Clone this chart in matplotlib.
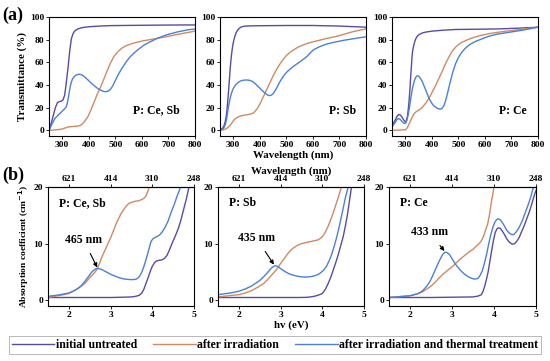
import matplotlib
matplotlib.use("Agg")
import matplotlib.pyplot as plt
from matplotlib.lines import Line2D

plt.rcParams['font.family'] = ['Liberation Serif', 'DejaVu Serif']
plt.rcParams['font.weight'] = 'bold'

C_INIT = '#5a4aa6'
C_IRR = '#cf8a64'
C_THERM = '#4a80d8'

series_names = ['initial untreated', 'after irradiation', 'after irradiation and thermal treatment']
panel_labels = ['P: Ce, Sb', 'P: Sb', 'P: Ce']

# ---------------- Row (a): transmittance vs wavelength ----------------
# Panel 1 : Ce, Sb
a1_init_x = [250, 258, 266, 274, 282, 290, 297, 303, 309, 313, 317, 322, 328, 334, 340, 346, 352, 358, 371, 385, 400, 440, 482, 600, 700, 800]
a1_init_y = [0, 6, 13, 20, 24.6, 25.4, 25.8, 27, 31, 38, 46, 56, 70, 80.5, 85, 87.4, 88.6, 89.4, 90.4, 91, 91.4, 92, 92.4, 92.7, 92.9, 93]
a1_irr_x = [250, 275, 297, 310, 322, 340, 359, 370, 377, 386, 396, 408, 420, 432, 445, 458, 470, 482, 494, 510, 525, 540, 556, 580, 605, 635, 667, 700, 729, 765, 800]
a1_irr_y = [0, 0.4, 1, 2, 3, 3.4, 3.7, 4.6, 6, 8.5, 11.8, 18, 25, 32, 38.5, 46, 53, 59.5, 65, 69.5, 72.6, 74.6, 76, 77.7, 79, 80.2, 81.5, 83, 84.4, 86, 87.5]
a1_the_x = [250, 260, 272, 285, 297, 306, 315, 320, 325, 330, 334, 338, 342, 349, 357, 365, 375, 390, 405, 420, 432, 445, 455, 464, 473, 482, 491, 500, 512, 525, 540, 556, 575, 593, 610, 630, 660, 692, 735, 778, 800]
a1_the_y = [0, 5, 10.4, 13.5, 16.3, 18.3, 20.7, 25, 32, 38.5, 42.5, 45, 46.6, 48.2, 49.2, 49.5, 48.8, 46, 42.6, 39.4, 37.2, 35.4, 34.4, 34.1, 34.6, 36.3, 39.6, 44, 49.7, 54.8, 60.2, 65, 69.2, 72.6, 75.5, 78, 81.4, 84.2, 86.9, 88.9, 89.3]

# Panel 2 : Sb
a2_init_x = [250, 260, 266, 270, 274, 277, 280, 284, 287, 290, 293, 296, 299, 302, 306, 310, 315, 321, 328, 334, 346, 370, 400, 500, 600, 700, 800]
a2_init_y = [0, 2, 4.5, 8, 13, 20, 28, 40, 50, 59, 66, 71.5, 76, 79.5, 83, 85.7, 88, 89.8, 90.9, 91.5, 92, 92.2, 92.3, 92.5, 92.5, 92, 91]
a2_irr_x = [250, 262, 270, 280, 290, 302, 312, 320, 330, 340, 352, 365, 377, 390, 402, 411, 420, 430, 440, 450, 460, 469, 477, 488, 500, 513, 527, 543, 560, 580, 602, 625, 650, 670, 690, 720, 750, 775, 800]
a2_irr_y = [0, 0.5, 1, 2.5, 5, 9, 11, 12, 12.8, 13.3, 13.8, 14.3, 15.5, 19, 24, 28.5, 33, 38, 43, 48, 52.4, 56, 59, 62.5, 66, 68.7, 71, 73.2, 75, 76.8, 78.2, 79.5, 81, 82, 83, 85, 87, 88.3, 89.5]
a2_the_x = [250, 260, 265, 270, 275, 280, 285, 290, 295, 300, 310, 320, 330, 340, 352, 362, 370, 380, 390, 400, 410, 418, 425, 431, 437, 443, 450, 457, 465, 472, 480, 490, 500, 515, 530, 545, 560, 577, 590, 602, 625, 650, 670, 690, 720, 750, 775, 800]
a2_the_y = [0, 1, 2.5, 5, 10, 18, 25, 30, 34, 37, 40.5, 42.5, 43.8, 44.3, 44.4, 44.1, 43.4, 41.8, 39.5, 37.2, 34.9, 33.2, 31.9, 31, 30.6, 31, 32.3, 34.7, 38, 41.3, 44.6, 48.2, 51, 54.3, 57, 59.5, 62, 65, 68.3, 71, 73.8, 76, 77.2, 78.2, 79.6, 80.7, 81.7, 82.5]

# Panel 3 : Ce
a3_init_x = [250, 256, 262, 268, 275, 281, 287, 293, 300, 304, 308, 312, 315, 318, 320, 323, 325, 328, 332, 336, 340, 346, 352, 365, 380, 400, 440, 490, 570, 655, 730, 800]
a3_init_y = [4.4, 6.5, 9, 12, 14, 13.6, 12, 9.5, 7.4, 8.5, 12, 20, 28, 38, 46, 56, 64, 70.5, 75, 78.5, 81, 83.3, 84.5, 86, 86.8, 87.5, 88.3, 89, 89.2, 89.5, 90.2, 91]
a3_irr_x = [250, 280, 302, 308, 315, 322, 328, 334, 343, 352, 365, 377, 390, 402, 415, 427, 440, 452, 465, 477, 492, 508, 530, 552, 580, 615, 645, 677, 720, 760, 800]
a3_irr_y = [0, 0.2, 0.6, 2.5, 6, 9.5, 12.5, 15, 16.8, 18, 20.5, 24, 28.5, 34, 40, 46, 52.5, 59, 65, 70, 74, 77, 79.5, 81.5, 83.5, 85.3, 86.4, 87.4, 88.6, 89.8, 91]
a3_the_x = [250, 256, 262, 268, 274, 280, 285, 291, 297, 302, 306, 310, 315, 320, 327, 334, 338, 342, 347, 352, 358, 365, 372, 380, 390, 400, 408, 415, 423, 431, 438, 446, 453, 459, 465, 472, 478, 484, 490, 496, 502, 514, 527, 545, 565, 590, 615, 645, 677, 710, 740, 770, 800]
a3_the_y = [3, 5, 7, 9.3, 10.4, 9.8, 8.5, 7, 6, 6.4, 9, 13, 19, 27, 37, 43.5, 46, 47.6, 48.2, 47.4, 45.5, 42.5, 38.5, 33.8, 28, 23.8, 21.5, 20.3, 19.2, 18.7, 19.2, 22, 27, 32.5, 38.5, 45, 50.5, 55, 59, 62.3, 65, 69.2, 72.6, 76, 78.5, 80.8, 83, 84.8, 86, 87.2, 88.3, 89.6, 91]

# ---------------- Row (b): absorption coefficient vs photon energy ----------------
b1_init_x = [1.5, 2.0, 2.5, 3.0, 3.3, 3.5, 3.6, 3.69, 3.75, 3.8, 3.85, 3.9, 3.95, 4.0, 4.05, 4.09, 4.15, 4.2, 4.25, 4.29, 4.35, 4.4, 4.45, 4.5, 4.56, 4.62, 4.68, 4.75, 4.82, 4.88, 4.95]
b1_init_y = [0.5, 0.5, 0.5, 0.5, 0.55, 0.6, 0.7, 0.9, 1.3, 2, 3, 4, 5.1, 6, 6.6, 6.9, 7.05, 7.1, 7.2, 7.4, 7.9, 8.7, 9.6, 10.5, 11.5, 12.6, 14, 16, 18, 20, 22]
b1_irr_x = [1.5, 1.8, 2.0, 2.15, 2.3, 2.4, 2.5, 2.58, 2.66, 2.73, 2.8, 2.9, 3.0, 3.08, 3.15, 3.25, 3.37, 3.44, 3.5, 3.55, 3.6, 3.66, 3.72, 3.78, 3.84, 3.88, 3.93, 4.0]
b1_irr_y = [0.5, 0.9, 1.2, 1.8, 2.5, 3.1, 4, 4.6, 5.3, 6.4, 7.8, 9.4, 11, 12.5, 13.8, 15.3, 16.6, 17.1, 17.3, 17.4, 17.5, 17.55, 17.7, 17.9, 18.3, 19, 20, 22]
b1_the_x = [1.5, 1.8, 2.0, 2.1, 2.2, 2.3, 2.4, 2.48, 2.55, 2.61, 2.66, 2.72, 2.8, 2.9, 3.0, 3.1, 3.2, 3.3, 3.4, 3.5, 3.6, 3.65, 3.7, 3.75, 3.8, 3.85, 3.9, 3.94, 3.97, 4.02, 4.07, 4.12, 4.17, 4.23, 4.3, 4.38, 4.45, 4.53, 4.6, 4.68, 4.75]
b1_the_y = [0.7, 1.0, 1.3, 1.6, 2, 2.6, 3.5, 4.3, 5, 5.4, 5.6, 5.6, 5.4, 5.0, 4.6, 4.3, 4.0, 3.8, 3.7, 3.65, 3.7, 3.9, 4.3, 5, 6, 7.2, 8.5, 9.6, 10.4, 10.9, 11.1, 11.3, 11.5, 12, 12.8, 14, 15.5, 17, 18.5, 20, 22]

b2_init_x = [1.5, 2.0, 2.5, 3.0, 3.4, 3.6, 3.7, 3.8, 3.9, 4.0, 4.07, 4.13, 4.2, 4.26, 4.32, 4.38, 4.44, 4.5, 4.55, 4.6, 4.65, 4.7, 4.76]
b2_init_y = [0.5, 0.5, 0.5, 0.5, 0.5, 0.52, 0.58, 0.7, 0.9, 1.2, 1.9, 2.8, 4, 5.3, 6.6, 8, 9.6, 11.2, 13, 15, 17.5, 20, 22]
b2_irr_x = [1.5, 1.8, 2.0, 2.15, 2.3, 2.45, 2.6, 2.72, 2.85, 2.93, 3.0, 3.1, 3.2, 3.3, 3.4, 3.48, 3.55, 3.61, 3.67, 3.74, 3.8, 3.87, 3.95, 4.01, 4.07, 4.13, 4.19, 4.25, 4.3, 4.38, 4.46, 4.52]
b2_irr_y = [0.6, 0.85, 1.0, 1.3, 1.7, 2.3, 3, 3.9, 5, 5.7, 6.5, 7.5, 8.5, 9.2, 9.7, 9.95, 10.1, 10.2, 10.3, 10.4, 10.5, 10.6, 10.9, 11.3, 12, 12.9, 14, 15.2, 16.3, 18.1, 20, 22]
b2_the_x = [1.5, 1.8, 2.0, 2.15, 2.3, 2.4, 2.5, 2.6, 2.7, 2.78, 2.86, 2.93, 3.0, 3.1, 3.2, 3.3, 3.4, 3.5, 3.6, 3.7, 3.8, 3.88, 3.95, 4.03, 4.1, 4.16, 4.22, 4.28, 4.34, 4.4, 4.45, 4.5, 4.55, 4.62, 4.67]
b2_the_y = [1.0, 1.3, 1.6, 2.0, 2.5, 3.0, 3.5, 4.2, 5, 5.7, 6.1, 6.0, 5.6, 5.1, 4.7, 4.45, 4.25, 4.15, 4.1, 4.15, 4.3, 4.5, 4.8, 5.3, 6, 6.9, 8, 9.4, 11, 12.8, 14.5, 16.2, 18, 20, 22]

b3_init_x = [1.5, 2.0, 2.5, 3.0, 3.5, 3.62, 3.7, 3.74, 3.78, 3.82, 3.86, 3.9, 3.95, 3.99, 4.03, 4.07, 4.1, 4.15, 4.2, 4.25, 4.3, 4.36, 4.43, 4.49, 4.55, 4.6, 4.65, 4.7, 4.75, 4.8, 4.85, 4.9, 4.95, 5.0]
b3_init_y = [0.5, 0.5, 0.5, 0.55, 0.6, 0.75, 1, 1.6, 2.5, 3.7, 5, 6.8, 9, 10.7, 12, 12.6, 12.8, 12.7, 12.2, 11.6, 10.9, 10.3, 9.9, 10, 10.5, 11.1, 12, 12.8, 13.8, 14.8, 15.8, 17, 18.3, 19.4]
b3_irr_x = [1.5, 2.0, 2.15, 2.3, 2.4, 2.5, 2.6, 2.7, 2.78, 2.85, 2.93, 3.0, 3.1, 3.2, 3.3, 3.4, 3.5, 3.57, 3.63, 3.68, 3.72, 3.76, 3.8, 3.85, 3.89, 3.93, 3.97, 4.0, 4.03]
b3_irr_y = [0.5, 0.8, 1.1, 1.5, 2.0, 2.5, 3.2, 4, 4.6, 5, 5.5, 5.9, 6.6, 7.3, 7.9, 8.5, 9.0, 9.5, 9.9, 10.3, 10.8, 11.5, 12.4, 13.5, 15, 17, 18.7, 20, 22]
b3_the_x = [1.5, 2.0, 2.1, 2.2, 2.3, 2.4, 2.48, 2.55, 2.62, 2.7, 2.77, 2.83, 2.89, 2.95, 3.02, 3.1, 3.2, 3.3, 3.4, 3.5, 3.56, 3.62, 3.67, 3.72, 3.77, 3.82, 3.87, 3.92, 3.97, 4.02, 4.06, 4.1, 4.15, 4.2, 4.25, 4.3, 4.36, 4.42, 4.47, 4.52, 4.57, 4.62, 4.67, 4.72, 4.77, 4.82, 4.87, 4.92, 4.96, 5.0]
b3_the_y = [0.5, 0.8, 1.0, 1.2, 1.7, 2.5, 3.4, 4.5, 5.7, 7, 8.0, 8.5, 8.4, 8.0, 7.1, 6.2, 5.3, 4.6, 4.1, 3.8, 3.75, 3.9, 4.4, 5.2, 6.5, 8, 9.8, 11.5, 12.8, 13.8, 14.2, 14.4, 14.2, 13.7, 13.1, 12.4, 11.9, 11.6, 11.6, 12, 12.5, 13.2, 14, 15, 16, 17, 18.1, 19.5, 20.3, 21]

peak_labels = ['465 nm', '435 nm', '433 nm']
peak_xy = [(2.68, 5.8), (2.84, 6.3), (2.82, 8.7)]
peak_text_xy = [(2.35, 10.7), (2.42, 11.0), (2.46, 12.0)]

top_tick_pos = [2, 3, 4, 5]
top_tick_labels = ['621', '414', '310', '248']

a_data = [
    ((a1_init_x, a1_init_y), (a1_irr_x, a1_irr_y), (a1_the_x, a1_the_y)),
    ((a2_init_x, a2_init_y), (a2_irr_x, a2_irr_y), (a2_the_x, a2_the_y)),
    ((a3_init_x, a3_init_y), (a3_irr_x, a3_irr_y), (a3_the_x, a3_the_y)),
]
b_data = [
    ((b1_init_x, b1_init_y), (b1_irr_x, b1_irr_y), (b1_the_x, b1_the_y)),
    ((b2_init_x, b2_init_y), (b2_irr_x, b2_irr_y), (b2_the_x, b2_the_y)),
    ((b3_init_x, b3_init_y), (b3_irr_x, b3_irr_y), (b3_the_x, b3_the_y)),
]
colors = [C_INIT, C_IRR, C_THERM]

W, H = 550, 361
fig = plt.figure(figsize=(W / 100, H / 100), dpi=100)


def px_axes(left, top, right, bottom):
    return fig.add_axes([left / W, 1 - bottom / H, (right - left) / W, (bottom - top) / H])


TICK_FS = 6.8
LAB_FS = 7.8
a_boxes = [(49, 17, 195, 136), (220, 17, 366, 136), (392, 17, 538, 136)]
b_boxes = [(48, 187, 194, 306), (218, 187, 364, 306), (389, 187, 536, 306)]

a_text_x = [567, 659, 654]
for i, box in enumerate(a_boxes):
    ax = px_axes(*box)
    for (x, y), c in zip(a_data[i], colors):
        ax.plot(x, y, color=c, lw=1.0, solid_joinstyle='round')
    ax.set_xlim(250, 800)
    ax.set_ylim(-5, 100)
    ax.set_xticks([300, 400, 500, 600, 700, 800])
    ax.set_yticks([0, 20, 40, 60, 80, 100])
    ax.tick_params(labelsize=TICK_FS, length=2, width=0.6, pad=1.5)
    for lab in ax.get_xticklabels() + ax.get_yticklabels():
        lab.set_fontweight('bold')
    for s in ax.spines.values():
        s.set_linewidth(0.8)
    ax.text(a_text_x[i], 17.5, panel_labels[i], fontsize=8.5, fontweight='bold', ha='left', va='center')
    if i == 0:
        ax.set_ylabel('Transmittance (%)', fontsize=LAB_FS, fontweight='bold', labelpad=2)
    if i == 1:
        ax.set_xlabel('Wavelength (nm)', fontsize=LAB_FS, fontweight='bold', labelpad=1)

for i, box in enumerate(b_boxes):
    ax = px_axes(*box)
    for (x, y), c in zip(b_data[i], colors):
        ax.plot(x, y, color=c, lw=1.0, solid_joinstyle='round')
    ax.set_xlim(1.5, 5)
    ax.set_ylim(-1, 20)
    ax.set_xticks([2, 3, 4, 5])
    ax.set_yticks([0, 10, 20])
    ax.tick_params(labelsize=TICK_FS, length=2, width=0.6, pad=1.5)
    for lab in ax.get_xticklabels() + ax.get_yticklabels():
        lab.set_fontweight('bold')
    for s in ax.spines.values():
        s.set_linewidth(0.8)
    top = ax.secondary_xaxis('top')
    top.set_xticks(top_tick_pos)
    top.set_xticklabels(top_tick_labels, fontsize=TICK_FS, fontweight='bold')
    top.tick_params(length=2, width=0.6, pad=1)
    ax.text(1.77, 17.2, panel_labels[i], fontsize=8.5, fontweight='bold', ha='left', va='center')
    ax.annotate(peak_labels[i], xy=peak_xy[i], xytext=peak_text_xy[i],
                fontsize=8.5, fontweight='bold', ha='center', va='center',
                arrowprops=dict(arrowstyle='-|>', color='black', lw=0.8,
                                mutation_scale=6, shrinkA=4, shrinkB=0))
    if i == 0:
        ax.set_ylabel('Absorption coefficient (cm$^{\\mathbf{-1}}$)', fontsize=6.8,
                      fontweight='bold', labelpad=2)
    if i == 1:
        ax.set_xlabel('hv (eV)', fontsize=LAB_FS, fontweight='bold', labelpad=1)
        top.set_xlabel('Wavelength (nm)', fontsize=LAB_FS, fontweight='bold', labelpad=1)

fig.text(2 / W, 1 - 15 / H, '(a)', fontsize=13, fontweight='bold', ha='left', va='center')
fig.text(2 / W, 1 - 175 / H, '(b)', fontsize=13, fontweight='bold', ha='left', va='center')

handles = [Line2D([0], [0], color=c, lw=1.0) for c in colors]
leg = fig.legend(handles, series_names, loc='center', bbox_to_anchor=(275 / W, 1 - 345 / H),
                 ncol=3, frameon=True, fancybox=False, edgecolor='#999999',
                 prop={'family': 'Liberation Serif', 'weight': 'bold', 'size': 8.5},
                 handlelength=3.6, handletextpad=0.1, columnspacing=1.4,
                 borderpad=0.25, borderaxespad=0)
leg.get_frame().set_linewidth(0.6)

fig.savefig('out.png', dpi=100)
